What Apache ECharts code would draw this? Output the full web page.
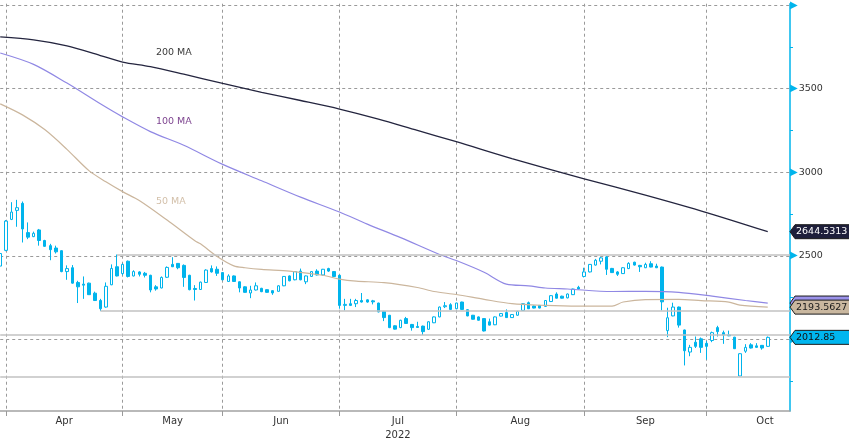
<!DOCTYPE html>
<html><head><meta charset="utf-8">
<script src="https://cdn.jsdelivr.net/npm/echarts@6/dist/echarts.min.js"></script>
<style>html,body{margin:0;padding:0;background:#fff}#c{width:849px;height:442px}</style>
</head><body><div id="c"></div>
<script>
// ---- data ----
const slotCount = 143; // trading-day slots shown on the axis (139 sessions + 4 empty)
const sessions = Array.from({length: slotCount}, (_, i) => 'S' + i);
const monthStarts = [1, 22, 40, 61, 82, 105, 127];
const monthNames = ['Apr', 'May', 'Jun', 'Jul\n2022', 'Aug', 'Sep', 'Oct'];
const monthLabelSlots = [11.5, 31, 50.5, 71.5, 93.5, 116, 137.5];
const yTickLabels = [2500, 3000, 3500];
const yArrowTicks = [2000, 2500, 3000, 3500, 4000];

// [open, close, low, high]
const ohlc = [
[2439,2514,2431,2525],[2533,2708,2528,2714],[2718,2762,2714,2821],[2772,2788,2674,2835],[2814,2661,2580,2825],
[2639,2612,2600,2700],[2615,2635,2612,2645],[2655,2592,2561,2661],[2592,2557,2554,2596],[2561,2537,2474,2572],
[2547,2524,2514,2561],[2531,2406,2402,2533],[2406,2424,2357,2443],[2429,2337,2334,2445],[2341,2315,2218,2351],
[2331,2325,2243,2377],[2337,2268,2266,2340],[2277,2233,2230,2286],[2233,2184,2171,2243],[2194,2318,2190,2341],
[2327,2425,2325,2449],[2435,2380,2377,2508],[2394,2449,2384,2455],[2468,2377,2371,2472],[2380,2406,2377,2414],
[2404,2390,2377,2408],[2396,2384,2371,2404],[2384,2296,2282,2387],[2315,2302,2292,2325],[2308,2371,2306,2377],
[2372,2431,2368,2437],[2449,2435,2433,2492],[2455,2429,2420,2457],[2443,2371,2315,2449],[2384,2298,2294,2387],
[2305,2299,2233,2325],[2299,2343,2296,2346],[2341,2415,2338,2420],[2424,2404,2400,2443],[2420,2396,2380,2437],
[2400,2357,2354,2403],[2347,2380,2344,2390],[2380,2347,2344,2383],[2345,2308,2282,2347],[2315,2282,2280,2318],
[2278,2296,2247,2321],[2296,2321,2293,2341],[2306,2286,2283,2309],[2298,2282,2280,2300],[2292,2278,2267,2295],
[2288,2321,2286,2324],[2321,2377,2319,2379],[2380,2351,2348,2383],[2357,2406,2354,2408],[2409,2357,2354,2424],
[2345,2380,2331,2383],[2377,2406,2374,2409],[2409,2386,2383,2420],[2386,2420,2383,2422],[2424,2409,2404,2429],
[2406,2377,2374,2409],[2384,2204,2184,2387],[2204,2210,2174,2243],[2214,2204,2200,2243],[2214,2233,2194,2243],
[2233,2224,2221,2278],[2237,2224,2220,2240],[2231,2225,2210,2237],[2218,2165,2162,2220],[2168,2131,2110,2171],
[2145,2071,2068,2147],[2082,2062,2060,2085],[2071,2115,2068,2118],[2125,2096,2093,2135],[2090,2071,2053,2093],
[2078,2072,2070,2106],[2080,2047,2027,2083],[2061,2106,2058,2109],[2100,2135,2098,2138],[2135,2194,2133,2197],
[2196,2202,2188,2224],[2208,2180,2178,2217],[2184,2218,2182,2220],[2224,2180,2178,2226],[2178,2141,2139,2181],
[2145,2121,2119,2147],[2135,2115,2113,2138],[2125,2051,2048,2128],[2106,2086,2084,2125],[2088,2135,2086,2138],
[2140,2155,2138,2157],[2161,2131,2129,2180],[2131,2149,2129,2151],[2145,2168,2142,2171],[2174,2214,2172,2216],
[2220,2184,2182,2227],[2200,2188,2186,2203],[2204,2188,2186,2206],[2198,2233,2195,2236],[2227,2262,2224,2265],
[2272,2247,2245,2282],[2259,2247,2245,2262],[2249,2272,2246,2275],[2268,2302,2266,2304],[2312,2302,2300,2321],
[2377,2404,2371,2429],[2404,2449,2401,2451],[2445,2474,2442,2482],[2468,2488,2449,2494],[2494,2420,2386,2499],
[2425,2400,2398,2428],[2404,2390,2380,2409],[2394,2429,2392,2432],[2424,2455,2421,2462],[2462,2445,2442,2465],
[2443,2435,2404,2446],[2429,2449,2427,2459],[2453,2433,2431,2468],[2439,2429,2427,2453],[2433,2225,2174,2436],
[2053,2130,2014,2190],[2141,2194,2139,2220],[2194,2086,2071,2197],[2057,1933,1845,2059],[1925,1953,1900,1968],
[1984,1959,1949,2018],[2004,1953,1920,2012],[1977,1959,1880,1990],[1994,2041,1984,2047],[2071,2047,2018,2082],
[2041,2027,1974,2053],[2027,2022,2020,2053],[2014,1945,1943,2016],[1782,1915,1780,1918],[1930,1953,1920,1972],
[1968,1949,1946,1978],[1962,1953,1949,1978],[1965,1949,1939,1967],[1959,2012.85,1956,2018]
];

// moving averages read at sampled sessions: [slot, value]
const ma200 = [[0,3809],[6,3792],[12,3756],[18,3698],[22,3659],[27,3631],[33,3586],[40,3531],[47,3478],[54,3429],
  [61,3378],[68,3318],[75,3250],[82,3183],[92,3082],[105,2961],[116,2863],[127,2759],[138,2644.5313]];
const ma100 = [[0,3713],[6,3645],[12,3533],[18,3409],[22,3331],[27,3243],[33,3161],[40,3047],[47,2949],[54,2851],
  [61,2762],[66,2690],[72,2609],[79,2508],[82,2472],[87,2402],[91,2331],[95,2321],[98,2308],[102,2302],
  [110,2287],[116,2288],[122,2282],[128,2259],[134,2233],[138,2218]];
const ma50 = [[0,3409],[4,3343],[8,3255],[12,3137],[16,3008],[19,2943],[22,2884],[25,2831],[30,2714],[35,2590],
  [36,2572],[39,2496],[42,2440],[44,2429],[47,2419],[52,2409],[58,2384],[61,2361],[64,2349],[69,2340],
  [75,2311],[78,2287],[82,2269],[87,2240],[92,2214],[98,2204],[104,2200],[110,2200],[112,2224],[116,2239],
  [122,2240],[126,2233],[131,2224],[133,2205],[138,2193.5627]];

// support / resistance levels: [startSlot, value] (start null = full width)
const levels = [[21, 2505], [18, 2171], [null, 2029.5], [null, 1778]];
const maNames = ['200 MA', '100 MA', '50 MA'];

// ---- chart ----
const CYAN = '#00b4ec';
const FONT = 'DejaVu Sans';
const isMonthStart = (i) => monthStarts.indexOf(i) >= 0;

const chart = echarts.init(document.getElementById('c'), null, {renderer: 'canvas'});

const markData = levels.map(([s, v]) => s === null
  ? {yAxis: v}
  : [{coord: [s, v]}, {coord: [slotCount - 1, v]}]);

const option = {
  animation: false,
  backgroundColor: '#ffffff',
  grid: {left: 0, right: 59, top: 0, bottom: 28},
  xAxis: [
    {
      type: 'category', data: sessions, boundaryGap: false,
      axisLine: {onZero: false, lineStyle: {color: '#a3a3a3', width: 1.5}},
      axisTick: {show: true, interval: isMonthStart, length: 5, lineStyle: {color: '#9a9a9a'}},
      axisLabel: {show: false},
      splitLine: {show: true, interval: isMonthStart, lineStyle: {color: '#9a9a9a', type: [3, 3], width: 1}}
    },
    {
      type: 'value', min: 0, max: slotCount - 1, interval: 0.5, position: 'bottom',
      axisLine: {show: false, onZero: false}, axisTick: {show: false}, splitLine: {show: false},
      axisLabel: {
        margin: 3, color: '#333', fontFamily: FONT, fontSize: 10, lineHeight: 14,
        showMinLabel: false, showMaxLabel: false,
        formatter: (v) => {
          const k = monthLabelSlots.findIndex(p => Math.abs(p - v) < 1e-6);
          return k >= 0 ? monthNames[k] : '';
        }
      }
    }
  ],
  yAxis: {
    type: 'value', position: 'right', min: 1572.5, max: 4007.6, splitNumber: 5,
    axisLine: {show: true, onZero: false, lineStyle: {color: CYAN, width: 1.5}},
    axisTick: {show: false},
    minorTick: {show: true, splitNumber: 2, length: 3, lineStyle: {color: CYAN, width: 1}},
    splitLine: {show: true, showMinLine: false, showMaxLine: false, lineStyle: {color: '#9a9a9a', type: [3, 3], width: 1}},
    axisLabel: {
      margin: 0, showMinLabel: false, showMaxLabel: false,
      formatter: (v) => {
        if (yTickLabels.indexOf(v) >= 0) return '{a|▶}{b|' + v + '}';
        if (yArrowTicks.indexOf(v) >= 0) return '{a|▶}';
        return '';
      },
      rich: {
        a: {color: CYAN, fontSize: 10, fontFamily: FONT},
        b: {color: '#333', fontSize: 9.5, fontFamily: FONT, padding: [0, 0, 0, 1]}
      }
    }
  },
  series: [
    {
      type: 'candlestick', xAxisIndex: 0, yAxisIndex: 0, data: ohlc, barWidth: 3, clip: true,
      itemStyle: {color: '#ffffff', color0: CYAN, borderColor: CYAN, borderColor0: CYAN, borderWidth: 1},
      markLine: {
        silent: true, symbol: ['none', 'none'], label: {show: false},
        lineStyle: {color: '#c2c2c2', width: 1.5, type: 'solid'},
        emphasis: {disabled: true},
        data: markData
      }
    },
    {type: 'line', data: ma200, symbol: 'none', smooth: 0.3, lineStyle: {color: '#24253f', width: 1.3}, z: 3},
    {type: 'line', data: ma100, symbol: 'none', smooth: 0.3, lineStyle: {color: '#9088e4', width: 1.2}, z: 3},
    {type: 'line', data: ma50, symbol: 'none', smooth: 0.3, lineStyle: {color: '#cbb69d', width: 1.2}, z: 3}
  ]
};
chart.setOption(option);

// ---- annotations placed through the chart's own scales ----
const px = (slot, v) => chart.convertToPixel({xAxisIndex: 0, yAxisIndex: 0}, [slot, v]);
const edgeX = chart.convertToPixel({xAxisIndex: 0}, slotCount - 1);
const W = 849;
const last = (arr) => arr[arr.length - 1][1];
const closeLast = ohlc[ohlc.length - 1][1];

const tags = [
  {v: last(ma100), fill: '#9b92ea', color: '#222', text: ''},
  {v: last(ma50), fill: '#c9b79f', color: '#1a1a1a', text: String(last(ma50))},
  {v: last(ma200), fill: '#1e1f3b', color: '#ffffff', text: String(last(ma200))},
  {v: closeLast, fill: '#00b6ef', color: '#111', text: String(closeLast)}
];
const graphics = [];
tags.forEach((t, i) => {
  const cy = chart.convertToPixel({yAxisIndex: 0}, t.v);
  const h = 7;
  graphics.push({
    type: 'polygon', z: 100 + i * 2, silent: true,
    shape: {points: [[edgeX, cy], [edgeX + 5, cy - h], [W + 2, cy - h], [W + 2, cy + h], [edgeX + 5, cy + h]]},
    style: {fill: t.fill, stroke: '#1b1b1b', lineWidth: 1}
  });
  if (t.text) graphics.push({
    type: 'text', z: 101 + i * 2, silent: true, x: edgeX + 6, y: cy,
    style: {text: t.text, fill: t.color, font: '9.5px "DejaVu Sans"', verticalAlign: 'middle', align: 'left'}
  });
});

// MA name labels, anchored at a session slot and value level
const labelSlot = 28;
const labelLevels = [3713, 3302, 2825];
const labelColors = ['#3b3b3b', '#7e4590', '#d3c0aa'];
maNames.forEach((n, i) => {
  const p = px(labelSlot, labelLevels[i]);
  graphics.push({
    type: 'text', z: 50, silent: true, x: p[0], y: p[1],
    style: {text: n, fill: labelColors[i], font: '9.5px "DejaVu Sans"', verticalAlign: 'middle', align: 'left'}
  });
});
chart.setOption({graphic: graphics});
</script>
</body></html>
